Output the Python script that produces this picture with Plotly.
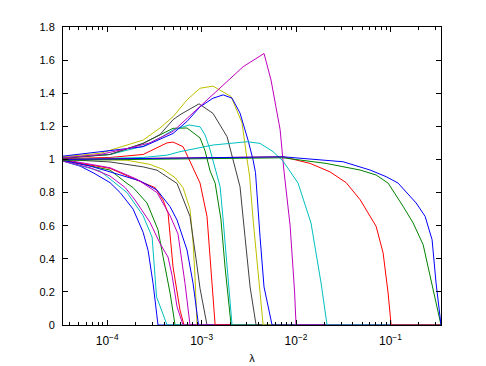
import plotly.graph_objects as go

LAM_MAX = 0.343
LAM_MIN = 3.4e-5

# each path: lambda values and normalized coefficient values
blue_a_lam = [3.4e-5, 5.15e-5, 7.08e-5, 1.07e-4, 1.37e-4, 1.88e-4, 2.40e-4, 2.71e-4, 3.06e-4, 3.45e-4]
blue_a_val = [0.99, 0.96, 0.92, 0.86, 0.80, 0.70, 0.56, 0.45, 0.25, 0]

cyan_a_lam = [3.4e-5, 8.4e-5, 1.62e-4, 2.40e-4, 2.99e-4, 3.33e-4, 4.30e-4]
cyan_a_val = [0.99, 0.93, 0.80, 0.66, 0.53, 0.17, 0]

green_a_lam = [3.4e-5, 1.07e-4, 1.62e-4, 1.88e-4, 2.64e-4, 3.45e-4, 3.90e-4, 4.63e-4, 5.23e-4]
green_a_val = [0.995, 0.936, 0.855, 0.83, 0.737, 0.575, 0.414, 0.193, 0]

magenta_a_lam = [3.4e-5, 6.58e-5, 1.07e-4, 1.55e-4, 1.97e-4, 2.84e-4, 3.62e-4, 4.41e-4, 4.86e-4, 5.49e-4, 6.35e-4]
magenta_a_val = [0.99, 0.95, 0.90, 0.83, 0.755, 0.62, 0.493, 0.41, 0.30, 0.11, 0]

red_a_lam = [3.4e-5, 1.07e-4, 2.07e-4, 3.21e-4, 3.90e-4, 4.41e-4, 4.98e-4, 5.90e-4, 6.50e-4]
red_a_val = [0.995, 0.946, 0.875, 0.83, 0.755, 0.675, 0.35, 0.09, 0]

magenta_b_lam = [3.4e-5, 1.07e-4, 2.07e-4, 3.37e-4, 4.63e-4, 5.62e-4, 6.67e-4, 7.53e-4]
magenta_b_val = [1.0, 0.95, 0.88, 0.80, 0.66, 0.55, 0.25, 0]

yellow_a_lam = [3.4e-5, 1.62e-4, 2.84e-4, 3.90e-4, 5.23e-4, 6.35e-4, 7.53e-4, 8.11e-4, 8.51e-4, 8.93e-4]
yellow_a_val = [1.005, 0.995, 0.97, 0.94, 0.89, 0.83, 0.70, 0.50, 0.29, 0]

blue_b_lam = [3.4e-5, 6.58e-5, 1.07e-4, 2.23e-4, 3.37e-4, 4.63e-4, 5.49e-4, 7.00e-4, 8.11e-4, 9.27e-4]
blue_b_val = [0.995, 0.96, 0.925, 0.87, 0.815, 0.715, 0.634, 0.453, 0.252, 0]

gray_a_lam = [3.4e-5, 1.07e-4, 2.40e-4, 3.37e-4, 5.49e-4, 7.53e-4, 8.72e-4, 9.62e-4, 1.14e-3]
gray_a_val = [1.0, 0.985, 0.955, 0.935, 0.855, 0.656, 0.40, 0.22, 0]

red_p_lam = [3.4e-5, 1.07e-4, 2.40e-4, 3.06e-4, 4.30e-4, 4.98e-4, 6.35e-4, 6.83e-4, 8.11e-4, 9.62e-4, 1.14e-3, 1.39e-3]
red_p_val = [1.005, 1.012, 1.03, 1.06, 1.10, 1.105, 1.077, 1.04, 0.95, 0.857, 0.656, 0]

green_p_lam = [3.4e-5, 1.07e-4, 2.40e-4, 3.62e-4, 4.98e-4, 7.00e-4, 9.62e-4, 1.09e-3, 1.23e-3, 1.39e-3, 1.60e-3, 1.77e-3, 2.05e-3]
green_p_val = [1.01, 1.03, 1.097, 1.15, 1.188, 1.19, 1.13, 1.05, 0.93, 0.857, 0.64, 0.35, 0]

cyan_p_lam = [3.4e-5, 1.07e-4, 2.40e-4, 3.62e-4, 4.98e-4, 7.35e-4, 9.62e-4, 1.09e-3, 1.23e-3, 1.45e-3, 1.57e-3, 1.69e-3, 1.86e-3, 2.10e-3]
cyan_p_val = [1.01, 1.03, 1.08, 1.13, 1.178, 1.208, 1.197, 1.147, 1.057, 0.916, 0.835, 0.634, 0.33, 0]

gray_p_lam = [3.4e-5, 1.07e-4, 2.40e-4, 3.62e-4, 4.98e-4, 5.90e-4, 9.39e-4, 1.32e-3, 1.86e-3, 2.26e-3, 2.55e-3, 2.88e-3, 3.26e-3, 3.77e-3]
gray_p_val = [1.006, 1.03, 1.097, 1.15, 1.24, 1.27, 1.336, 1.278, 1.137, 0.956, 0.835, 0.533, 0.23, 0]

yellow_p_lam = [3.4e-5, 8.4e-5, 2.40e-4, 3.62e-4, 4.98e-4, 7.00e-4, 9.62e-4, 1.32e-3, 2.05e-3, 2.68e-3, 3.03e-3, 3.22e-3, 3.51e-3, 3.96e-3, 4.48e-3]
yellow_p_val = [1.016, 1.037, 1.117, 1.19, 1.258, 1.36, 1.43, 1.443, 1.38, 1.22, 1.0, 0.9, 0.634, 0.33, 0]

blue_p_lam = [3.4e-5, 2.40e-4, 4.98e-4, 7.00e-4, 9.62e-4, 1.32e-3, 1.69e-3, 2.10e-3, 2.55e-3, 3.10e-3, 3.51e-3, 3.72e-3, 4.16e-3, 4.58e-3, 5.57e-3]
blue_p_val = [1.02, 1.077, 1.157, 1.23, 1.318, 1.37, 1.39, 1.37, 1.28, 1.117, 0.996, 0.92, 0.53, 0.23, 0]

magenta_p_lam = [3.4e-5, 8.4e-5, 1.75e-4, 2.84e-4, 4.98e-4, 9.62e-4, 2.75e-3, 4.58e-3, 5.43e-3, 6.78e-3, 7.45e-3, 8.65e-3, 9.65e-3, 1.0e-2]
magenta_p_val = [1.01, 1.03, 1.07, 1.10, 1.17, 1.32, 1.56, 1.64, 1.48, 1.18, 0.93, 0.6, 0.2, 0]

cyan_s_lam = [3.4e-5, 2.40e-4, 4.30e-4, 5.90e-4, 1.32e-3, 3.03e-3, 4.16e-3, 5.71e-3, 7.28e-3, 1.05e-2, 1.44e-2, 1.84e-2, 2.13e-2]
cyan_s_val = [1.0, 1.012, 1.026, 1.047, 1.087, 1.107, 1.097, 1.047, 0.99, 0.857, 0.616, 0.254, 0]

red_f_lam = [3.4e-5, 2.84e-4, 2.75e-3, 7.28e-3, 1.41e-2, 2.29e-2, 3.39e-2, 4.77e-2, 7.05e-2, 8.36e-2, 9.44e-2, 0.1016]
red_f_val = [1.0, 1.005, 1.012, 1.016, 0.976, 0.925, 0.86, 0.757, 0.596, 0.435, 0.193, 0]

green_f_lam = [3.4e-5, 2.84e-4, 2.75e-3, 7.28e-3, 2.08e-2, 4.77e-2, 7.05e-2, 9.44e-2, 0.136, 0.174, 0.222, 0.263, 0.343]
green_f_val = [0.995, 1.0, 1.006, 1.01, 0.976, 0.936, 0.906, 0.857, 0.717, 0.616, 0.485, 0.294, 0]

blue_f_lam = [3.4e-5, 2.84e-4, 2.75e-3, 7.28e-3, 3.15e-2, 6.08e-2, 9.0e-2, 0.1205, 0.187, 0.233, 0.276, 0.304, 0.343]
blue_f_val = [1.0, 1.005, 1.013, 1.016, 0.986, 0.936, 0.896, 0.857, 0.737, 0.656, 0.515, 0.254, 0]

B, G, R, C, M, Y, K = "#0000ff", "#008000", "#ff0000", "#00bfbf", "#bf00bf", "#bfbf00", "#404040"

paths = [
    (blue_a_lam, blue_a_val, B), (green_a_lam, green_a_val, G), (red_a_lam, red_a_val, R),
    (cyan_a_lam, cyan_a_val, C), (magenta_a_lam, magenta_a_val, M), (yellow_a_lam, yellow_a_val, Y),
    (gray_a_lam, gray_a_val, K), (blue_b_lam, blue_b_val, B), (magenta_b_lam, magenta_b_val, M),
    (red_p_lam, red_p_val, R), (green_p_lam, green_p_val, G), (cyan_p_lam, cyan_p_val, C),
    (gray_p_lam, gray_p_val, K), (yellow_p_lam, yellow_p_val, Y), (blue_p_lam, blue_p_val, B),
    (magenta_p_lam, magenta_p_val, M), (cyan_s_lam, cyan_s_val, C), (red_f_lam, red_f_val, R),
    (green_f_lam, green_f_val, G), (blue_f_lam, blue_f_val, B),
]

fig = go.Figure()
for lam, val, col in paths:
    # once a coefficient hits zero it stays there up to lambda_max
    if lam[-1] < LAM_MAX:
        lam = lam + [LAM_MAX]
        val = val + [0]
    fig.add_trace(go.Scatter(x=lam, y=val, mode="lines", line=dict(color=col, width=1), hoverinfo="skip"))

minor_x = [k * 10.0 ** e for e in range(-5, 0) for k in range(2, 10)]

fig.update_layout(
    width=486, height=366, showlegend=False,
    margin=dict(l=63, r=45, t=27, b=41),
    plot_bgcolor="white", paper_bgcolor="white",
    font=dict(family="Liberation Sans, Arial, sans-serif", size=11, color="black"),
    xaxis=dict(
        type="log", range=[-4.4685, -0.4647], automargin=False,
        tickvals=[1e-4, 1e-3, 1e-2, 1e-1],
        ticktext=["10<sup>−4</sup>", "10<sup>−3</sup>", "10<sup>−2</sup>", "10<sup>−1</sup>"],
        ticks="inside", ticklen=5, tickcolor="black",
        minor=dict(tickvals=minor_x, ticks="inside", ticklen=3, tickcolor="black"),
        showline=True, linecolor="black", linewidth=1, mirror="ticks",
        showgrid=False, zeroline=False, ticklabelstandoff=5,
        tickfont=dict(size=12),
        title=dict(text="λ", font=dict(size=11), standoff=6),
    ),
    yaxis=dict(
        range=[0, 1.8], dtick=0.2, tick0=0, automargin=False,
        ticks="inside", ticklen=5, tickcolor="black",
        showline=True, linecolor="black", linewidth=1, mirror="ticks",
        showgrid=False, zeroline=False, ticklabelstandoff=5,
    ),
)

fig.write_html("out.html", config={"displayModeBar": False})

# drop the default body margin so the 486x366 figure fills the window exactly
with open("out.html", "r", encoding="utf-8") as fr:
    page = fr.read()
with open("out.html", "w", encoding="utf-8") as fw:
    fw.write(page.replace("<body>", '<body style="margin:0">', 1))
